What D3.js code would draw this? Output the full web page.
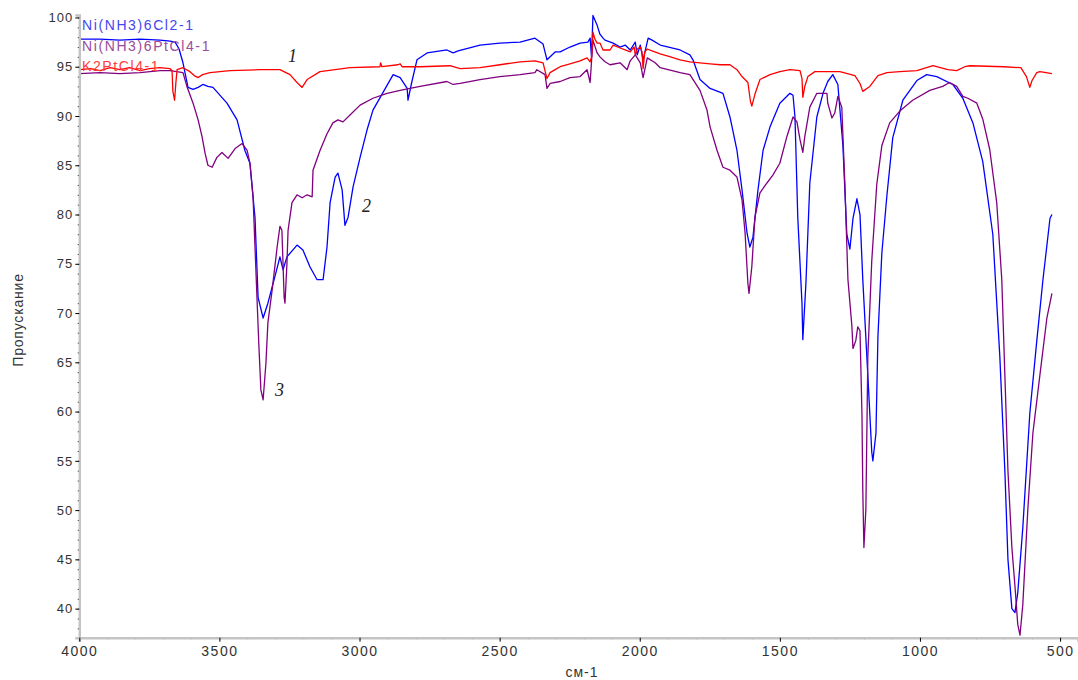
<!DOCTYPE html>
<html>
<head>
<meta charset="utf-8">
<script src="https://cdn.jsdelivr.net/npm/d3@7"></script>
<style>
  html, body { margin: 0; padding: 0; background: #fff; }
  svg { display: block; font-family: "Liberation Sans", Arial, sans-serif; }
</style>
</head>
<body>
<div id="chart"></div>
<script>
// серии: [волновое число, пропускание %]
const ni_cl2 = [
  [3998,97.8],[3926,97.8],[3855,97.7],[3783,97.8],[3712,97.7],[3676,97.6],[3658,97.5],[3644,96.8],
  [3630,95.4],[3612,92.9],[3594,92.7],[3576,92.9],[3559,93.2],[3541,93.0],[3523,92.9],[3473,91.3],
  [3437,89.6],[3409,86.5],[3391,85.2],[3373,79.7],[3362,71.6],[3344,69.5],[3327,71.0],[3302,73.7],
  [3284,75.7],[3273,74.4],[3259,75.7],[3223,76.9],[3202,76.4],[3177,74.7],[3152,73.4],[3130,73.4],
  [3116,76.7],[3105,81.2],[3087,83.8],[3077,84.2],[3062,82.5],[3052,78.9],[3041,79.7],[3023,82.8],
  [2998,85.8],[2973,88.6],[2952,90.6],[2916,92.4],[2880,94.2],[2855,93.9],[2830,92.8],[2827,91.6],
  [2813,93.5],[2795,95.7],[2759,96.4],[2688,96.7],[2666,96.4],[2648,96.6],[2570,97.2],[2499,97.4],
  [2427,97.5],[2374,97.9],[2345,97.3],[2331,95.7],[2302,96.5],[2284,96.5],[2249,97.0],[2213,97.4],
  [2185,97.5],[2177,97.9],[2172,96.0],[2167,100.2],[2152,99.2],[2142,98.3],[2131,97.9],[2124,97.7],
  [2095,97.4],[2070,97.0],[2052,97.2],[2034,96.7],[2016,97.5],[2009,96.2],[1998,97.2],[1988,95.7],
  [1970,97.9],[1956,97.7],[1927,97.2],[1856,96.7],[1821,96.2],[1810,95.7],[1785,93.7],[1749,92.8],
  [1703,92.3],[1678,89.9],[1653,86.5],[1635,82.5],[1617,78.1],[1607,76.7],[1596,77.7],[1578,82.5],
  [1560,86.5],[1535,88.9],[1500,91.3],[1464,92.3],[1453,92.1],[1446,89.9],[1436,79.7],[1421,71.0],
  [1418,67.3],[1407,73.0],[1393,83.2],[1368,89.9],[1346,92.3],[1329,93.5],[1311,94.2],[1293,93.2],
  [1275,87.0],[1261,78.0],[1250,76.5],[1239,79.6],[1225,81.6],[1214,80.0],[1204,73.4],[1186,63.7],
  [1172,55.9],[1168,55.0],[1157,57.8],[1150,67.6],[1136,76.1],[1118,81.9],[1097,87.8],[1061,91.6],
  [1011,93.6],[976,94.2],[940,94.0],[883,93.2],[847,91.8],[811,89.3],[776,85.4],[740,78.0],
  [715,65.6],[697,54.0],[686,45.0],[672,40.0],[661,39.6],[651,41.6],[633,48.2],[608,59.8],
  [583,67.2],[561,73.4],[536,79.6],[529,80.0]
];

const ni_ptcl4 = [
  [3998,94.3],[3926,94.4],[3855,94.3],[3783,94.4],[3712,94.6],[3676,94.6],[3630,94.4],[3616,93.0],
  [3594,91.3],[3576,89.6],[3562,87.9],[3551,86.2],[3541,85.0],[3526,84.8],[3509,85.8],[3491,86.3],
  [3469,85.7],[3444,86.7],[3419,87.2],[3401,86.5],[3391,85.2],[3380,81.8],[3373,76.7],[3366,71.6],
  [3359,66.6],[3352,62.2],[3344,61.2],[3334,64.9],[3327,69.0],[3312,72.3],[3294,76.7],[3284,78.8],
  [3277,78.4],[3273,75.0],[3269,71.6],[3266,71.0],[3259,75.0],[3255,78.4],[3241,81.2],[3223,82.0],
  [3205,81.7],[3187,82.0],[3169,81.8],[3166,84.5],[3141,86.5],[3116,88.2],[3095,89.3],[3077,89.6],
  [3059,89.4],[3034,90.1],[2998,91.1],[2952,91.8],[2902,92.3],[2855,92.6],[2784,93.0],[2688,93.5],
  [2666,93.2],[2641,93.3],[2570,93.7],[2499,94.0],[2427,94.2],[2374,94.4],[2367,94.7],[2338,94.2],
  [2331,92.8],[2320,93.3],[2284,93.5],[2249,93.9],[2213,94.0],[2188,94.7],[2177,93.4],[2167,97.7],
  [2152,96.4],[2142,96.0],[2124,95.5],[2106,95.2],[2070,95.4],[2045,94.7],[2034,95.6],[2016,96.2],
  [1998,95.4],[1988,93.9],[1973,95.9],[1945,95.4],[1927,94.9],[1856,94.4],[1821,94.2],[1785,92.6],
  [1760,90.6],[1749,88.9],[1724,86.5],[1703,84.8],[1678,84.5],[1653,83.8],[1635,81.5],[1624,78.1],
  [1614,73.0],[1610,72.0],[1600,74.7],[1589,79.7],[1571,82.2],[1546,83.2],[1525,84.0],[1500,85.2],
  [1475,87.9],[1453,89.9],[1439,89.4],[1428,87.6],[1418,86.3],[1411,87.9],[1393,90.9],[1368,92.3],
  [1332,92.3],[1329,91.3],[1314,89.8],[1304,90.3],[1293,92.0],[1279,90.9],[1268,83.1],[1257,73.4],
  [1243,68.7],[1239,66.4],[1229,67.2],[1222,68.6],[1214,68.2],[1207,59.8],[1204,52.0],[1200,46.2],
  [1193,50.1],[1186,65.6],[1172,75.3],[1154,83.1],[1136,87.0],[1108,89.3],[1072,90.5],[1026,91.6],
  [965,92.6],[919,93.0],[894,93.4],[869,93.0],[847,92.0],[829,91.8],[797,91.3],[776,89.7],
  [751,86.6],[726,81.2],[708,73.4],[697,63.7],[686,54.0],[672,46.2],[661,42.3],[651,38.4],
  [643,37.3],[633,40.4],[615,50.1],[597,57.8],[572,63.7],[547,69.5],[529,72.0]
];

const k2ptcl4 = [
  [3998,94.7],[3960,94.8],[3926,94.6],[3890,94.9],[3855,94.7],[3820,94.9],[3783,94.6],[3750,94.8],
  [3712,94.9],[3676,94.8],[3669,94.6],[3666,92.5],[3660,91.6],[3655,93.5],[3651,94.7],[3630,94.9],
  [3605,94.5],[3590,94.1],[3576,93.9],[3560,94.2],[3534,94.4],[3462,94.6],[3355,94.7],[3284,94.7],
  [3248,94.2],[3223,93.4],[3205,92.9],[3187,93.7],[3141,94.5],[3034,94.9],[2927,95.0],[2925,95.4],
  [2920,95.0],[2863,95.2],[2855,95.3],[2848,95.0],[2784,95.0],[2677,95.1],[2641,94.8],[2570,94.9],
  [2499,95.2],[2427,95.5],[2374,95.6],[2345,95.4],[2331,93.8],[2320,94.4],[2302,94.7],[2284,95.0],
  [2249,95.3],[2213,95.6],[2188,95.9],[2177,95.5],[2172,96.0],[2167,98.5],[2160,97.8],[2152,97.4],
  [2142,97.4],[2131,96.7],[2106,96.7],[2095,97.2],[2070,96.9],[2052,96.7],[2034,96.5],[2020,97.0],
  [2016,96.2],[2009,96.8],[1998,97.0],[1992,96.5],[1988,94.8],[1982,96.5],[1973,96.8],[1956,96.6],
  [1927,96.3],[1890,96.0],[1856,95.7],[1821,95.5],[1785,95.4],[1749,95.3],[1713,95.2],[1678,95.2],
  [1653,94.7],[1635,94.0],[1614,93.4],[1605,91.5],[1600,91.0],[1589,92.2],[1571,93.7],[1535,94.2],
  [1500,94.5],[1464,94.7],[1428,94.6],[1421,93.8],[1418,91.9],[1411,93.0],[1400,94.0],[1375,94.5],
  [1286,94.5],[1232,94.1],[1214,93.3],[1204,92.5],[1179,93.0],[1150,94.1],[1118,94.4],[1072,94.5],
  [1011,94.6],[965,95.0],[954,95.1],[900,94.7],[869,94.6],[840,95.0],[822,95.1],[700,95.0],
  [640,94.9],[620,94.0],[608,92.9],[600,93.6],[583,94.4],[572,94.5],[529,94.3]
];

const seriesNames = ['Ni(NH3)6Cl2-1', 'Ni(NH3)6PtCl4-1', 'K2PtCl4-1'];
const lineColors = ['#0000ff', '#800080', '#ff0000'];
const legendColors = ['#4646f2', '#9a4c9a', '#ff3c3c'];

const xMajor = [4000, 3500, 3000, 2500, 2000, 1500, 1000, 500];
const xMinor = d3.range(4000, 436, -100);
const yMajor = [40, 45, 50, 55, 60, 65, 70, 75, 80, 85, 90, 95, 100];
const yMinor = d3.range(38, 101, 1);

// номера кривых на графике
const curveMarks = [
  { text: '1', wn: 3255, t: 95.5 },
  { text: '2', wn: 2991, t: 80.3 },
  { text: '3', wn: 3302, t: 61.6 }
];

const W = 1078, H = 680;

const svg = d3.select('#chart').append('svg')
  .attr('width', W)
  .attr('height', H);

const x = d3.scaleLinear().domain([4000, 436]).range([79.3, 1078]);
const y = d3.scaleLinear().domain([37.05, 100.25]).range([637.7, 15]);

// кривые
const line = d3.line()
  .x(d => x(d[0]))
  .y(d => y(d[1]));

const allSeries = [ni_cl2, ni_ptcl4, k2ptcl4];

svg.append('g')
  .selectAll('path')
  .data(allSeries)
  .enter()
  .append('path')
  .attr('d', d => line(d))
  .attr('fill', 'none')
  .attr('stroke', (d, i) => lineColors[i])
  .attr('stroke-width', 1.3)
  .attr('stroke-linejoin', 'round');

// оси
const yAxisMinor = svg.append('g')
  .attr('transform', `translate(${x(4000)},0)`)
  .call(d3.axisLeft(y).tickValues(yMinor).tickSize(1.5).tickFormat(''));

const yAxis = svg.append('g')
  .attr('transform', `translate(${x(4000)},0)`)
  .call(d3.axisLeft(y).tickValues(yMajor).tickSize(4).tickPadding(2).tickFormat(d3.format('d')));

const xAxisMinor = svg.append('g')
  .attr('transform', `translate(0,${y(37.05)})`)
  .call(d3.axisBottom(x).tickValues(xMinor).tickSize(1.5).tickFormat(''));

const xAxis = svg.append('g')
  .attr('transform', `translate(0,${y(37.05)})`)
  .call(d3.axisBottom(x).tickValues(xMajor).tickSize(4).tickPadding(4).tickFormat(d3.format('d')));

svg.selectAll('.domain')
  .attr('stroke', '#c4c4c4')
  .attr('stroke-width', 2.5);

yAxisMinor.select('.domain').remove();
xAxisMinor.select('.domain').remove();

svg.selectAll('.tick line')
  .attr('stroke', '#000')
  .attr('stroke-width', 1);

yAxis.selectAll('text')
  .attr('font-size', 13)
  .attr('fill', '#333')
  .style('letter-spacing', '1px');

xAxis.selectAll('text')
  .attr('font-size', 14)
  .attr('fill', '#333')
  .style('letter-spacing', '1.5px');

// подписи осей
svg.append('text')
  .attr('x', 582)
  .attr('y', 677)
  .attr('text-anchor', 'middle')
  .attr('font-size', 14)
  .attr('fill', '#333')
  .style('letter-spacing', '1px')
  .text('см-1');

svg.append('text')
  .attr('transform', 'translate(23,320) rotate(-90)')
  .attr('text-anchor', 'middle')
  .attr('font-size', 14)
  .attr('fill', '#333')
  .style('letter-spacing', '0.8px')
  .text('Пропускание');

// легенда
svg.append('g')
  .selectAll('text')
  .data(seriesNames)
  .enter()
  .append('text')
  .attr('x', 82)
  .attr('y', (d, i) => 30 + i * 20.5)
  .attr('font-size', 14)
  .attr('fill', (d, i) => legendColors[i])
  .style('letter-spacing', '1.6px')
  .text(d => d);

// номера кривых
svg.append('g')
  .selectAll('text')
  .data(curveMarks)
  .enter()
  .append('text')
  .attr('x', d => x(d.wn))
  .attr('y', d => y(d.t))
  .attr('font-family', '"Liberation Serif", "Times New Roman", serif')
  .attr('font-style', 'italic')
  .attr('font-size', 18)
  .attr('fill', '#222')
  .text(d => d.text);
</script>
</body>
</html>
